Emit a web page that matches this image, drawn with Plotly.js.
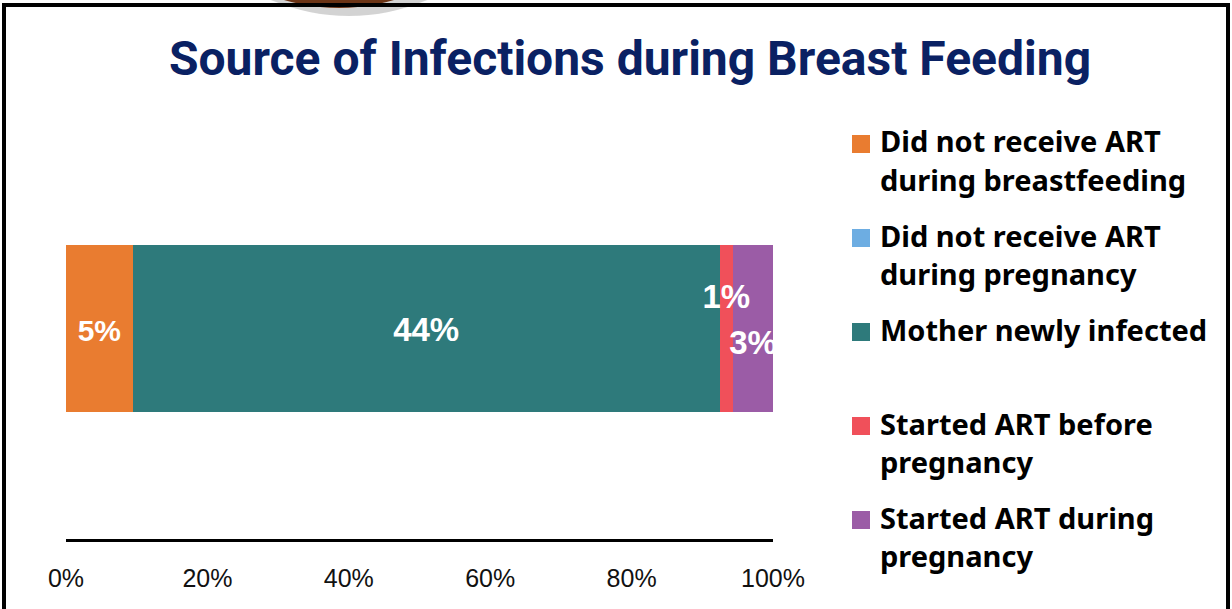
<!DOCTYPE html>
<html><head><meta charset="utf-8">
<script src="https://cdn.plot.ly/plotly-3.0.1.min.js"></script>
<style>html,body{margin:0;padding:0;background:#fff;overflow:hidden;} #chart{width:1232px;height:609px;}</style>
</head><body><div id="chart"></div>
<script>
// ---------- data ----------
const chartTitle = 'Source of Infections during Breast Feeding';
const seriesNames = [
  'Did not receive ART<br>during breastfeeding',
  'Did not receive ART<br>during pregnancy',
  'Mother newly infected',
  'Started ART before<br>pregnancy',
  'Started ART during<br>pregnancy'
];
const seriesValues = [5, 0, 44, 1, 3];
const seriesLabels = ['5%', '', '44%', '1%', '3%'];
const seriesColors = ['#E97C30', '#6DADE2', '#2E7A7B', '#F0505A', '#9B5CA6'];
const tickValues = [0, 20, 40, 60, 80, 100];
const tickLabels = ['0%', '20%', '40%', '60%', '80%', '100%'];

// ---------- style / layout constants ----------
const W = 1232, H = 609;
const M = {l: 66, r: 459, t: 118, b: 70};
const PW = W - M.l - M.r, PH = H - M.t - M.b;
const px = x => (x - M.l) / PW;
const py = y => (H - M.b - y) / PH;
const labelSizes = [30, 30, 33, 33, 33];
const labelDyPx = [-5, -4, -4, 29, -17];
const legendTextX = 878, legendMarkX0 = 852, legendMark = 18;
const legendY0 = 141, legendPitch = 94, legendLineGap = 38;

// ---------- traces ----------
const total = seriesValues.reduce((a, b) => a + b, 0);
const traces = seriesValues.map((v, i) => ({
  type: 'bar', orientation: 'h', x: [v], y: [0], name: seriesNames[i].replace('<br>', ' '),
  marker: {color: seriesColors[i], line: {width: 0}}, showlegend: false,
  textposition: 'none', hoverinfo: 'name+x'
}));
let cum = 0;
const lx = [], ly = [], lt = [], ls = [];
seriesValues.forEach((v, i) => {
  if (seriesLabels[i]) {
    lx.push((cum + v / 2) / total * 100);
    ly.push(labelDyPx[i] / PH);
    lt.push('<b>' + seriesLabels[i] + '</b>');
    ls.push(labelSizes[i]);
  }
  cum += v;
});
traces.push({
  type: 'scatter', mode: 'text', x: lx, y: ly, text: lt, textposition: 'middle center',
  textfont: {family: 'Liberation Sans, Arial, sans-serif', size: ls, color: '#FFFFFF'},
  cliponaxis: true, showlegend: false, hoverinfo: 'skip'
});

// ---------- decorations + custom legend ----------
const shapes = [];
const annotations = [];
[[203, 0.05], [199, 0.06], [196, 0.07]].forEach(([R, op]) => {
  shapes.push({type: 'circle', xref: 'paper', yref: 'paper', x0: px(349 - R), x1: px(349 + R),
    y0: py(16), y1: py(16 - 2 * R), fillcolor: 'rgba(0,0,0,' + op + ')', line: {width: 0}});
});
shapes.push({type: 'circle', xref: 'paper', yref: 'paper', x0: px(339 - 193), x1: px(339 + 193),
  y0: py(8), y1: py(8 - 386), fillcolor: '#6B3416', line: {width: 0}});
shapes.push({type: 'rect', xref: 'paper', yref: 'paper', x0: px(4), x1: px(1228), y0: py(640), y1: py(5),
  line: {color: '#000', width: 4}, fillcolor: 'rgba(0,0,0,0)'});

seriesNames.forEach((n, i) => {
  const yc = legendY0 + i * legendPitch;
  shapes.push({type: 'rect', xref: 'paper', yref: 'paper', x0: px(legendMarkX0), x1: px(legendMarkX0 + legendMark),
    y0: py(yc + 3 + legendMark / 2), y1: py(yc + 3 - legendMark / 2), fillcolor: seriesColors[i], line: {width: 0}});
  n.split('<br>').forEach((line, k) => {
    annotations.push({xref: 'paper', yref: 'paper', x: px(legendTextX), y: py(yc + k * legendLineGap),
      xanchor: 'left', yanchor: 'middle', showarrow: false, text: '<b>' + line + '</b>',
      font: {family: 'Noto Sans, sans-serif', size: 29, color: '#000'}});
  });
});

const layout = {
  width: W, height: H, margin: M, paper_bgcolor: '#fff', plot_bgcolor: '#fff',
  barmode: 'stack', barnorm: 'percent', bargap: 0.603, showlegend: false,
  title: {text: '<b>' + chartTitle + '</b>', x: 630 / W, xanchor: 'center', y: 1 - 58 / H, yanchor: 'middle',
    font: {family: 'Roboto, sans-serif', size: 48, color: '#0A2163'}},
  xaxis: {range: [0, 100], tickvals: tickValues, ticktext: tickLabels, showgrid: false, zeroline: false,
    showline: true, linecolor: '#000', linewidth: 2.5, ticks: '', ticklabelstandoff: 15,
    tickfont: {family: 'Liberation Sans, Arial, sans-serif', size: 25, color: '#111'}, fixedrange: true},
  yaxis: {range: [-0.5, 0.5], visible: false, fixedrange: true},
  shapes: shapes, annotations: annotations
};
Plotly.newPlot('chart', traces, layout, {displayModeBar: false, staticPlot: true});
</script></body></html>
